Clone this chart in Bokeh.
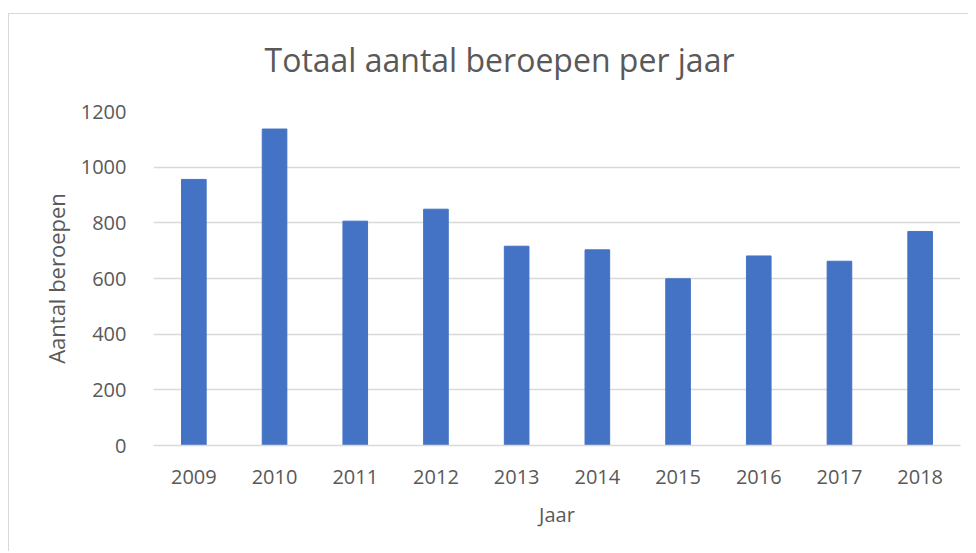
from bokeh.plotting import figure
from bokeh.models import FixedTicker
from bokeh.embed import file_html
from bokeh.resources import INLINE

years = ["2009", "2010", "2011", "2012", "2013", "2014", "2015", "2016", "2017", "2018"]
beroepen = [956, 1137, 806, 849, 716, 703, 599, 681, 662, 769]
y_ticks = [0, 200, 400, 600, 800, 1000, 1200]
chart_title = "Totaal aantal beroepen per jaar"

TEXT = "#595959"
FONT = "Open Sans"

p = figure(x_range=years, y_range=(0, 1200), width=960, height=548,
           output_backend="svg", toolbar_location=None, title=chart_title,
           min_border_left=145, min_border_right=8, min_border_top=108, min_border_bottom=106)
p.margin = (3, 0, 0, 8)
p.styles = {
    "background": ("linear-gradient(#D9D9D9, #D9D9D9) 0px 10px / 100% 1px no-repeat, "
                   "linear-gradient(#D9D9D9, #D9D9D9) 0px 10px / 1px 100% no-repeat, white"),
}

p.title.text_font = FONT
p.title.text_font_size = "32px"
p.title.text_font_style = "normal"
p.title.text_color = TEXT
p.title.align = "left"
p.title.offset = 111
p.title.standoff = 62

p.vbar(x=years, top=beroepen, width=0.305, color="#4472C4")

p.outline_line_color = None
p.background_fill_color = "white"
p.border_fill_alpha = 0
p.xgrid.grid_line_color = None
p.ygrid.grid_line_color = "#D9D9D9"
p.ygrid.grid_line_width = 1.3

p.yaxis.ticker = FixedTicker(ticks=y_ticks)
p.yaxis.axis_line_color = None
p.yaxis.major_tick_line_color = None
p.yaxis.minor_tick_line_color = None
p.yaxis.major_label_text_font = FONT
p.yaxis.major_label_text_font_size = "20px"
p.yaxis.major_label_text_color = TEXT
p.yaxis.major_label_standoff = 21
p.yaxis.axis_label = "Aantal beroepen"
p.yaxis.axis_label_text_font = FONT
p.yaxis.axis_label_text_font_size = "22px"
p.yaxis.axis_label_text_font_style = "normal"
p.yaxis.axis_label_text_color = TEXT
p.yaxis.axis_label_standoff = 7

p.xaxis.axis_line_color = "#D9D9D9"
p.xaxis.axis_line_width = 1.3
p.xaxis.major_tick_line_color = None
p.xaxis.minor_tick_line_color = None
p.xaxis.major_label_text_font = FONT
p.xaxis.major_label_text_font_size = "20px"
p.xaxis.major_label_text_color = TEXT
p.xaxis.major_label_standoff = 18
p.xaxis.axis_label = "Jaar"
p.xaxis.axis_label_text_font = FONT
p.xaxis.axis_label_text_font_size = "20px"
p.xaxis.axis_label_text_font_style = "normal"
p.xaxis.axis_label_text_color = TEXT
p.xaxis.axis_label_standoff = 14

open("out.html", "w").write(file_html(p, INLINE))
